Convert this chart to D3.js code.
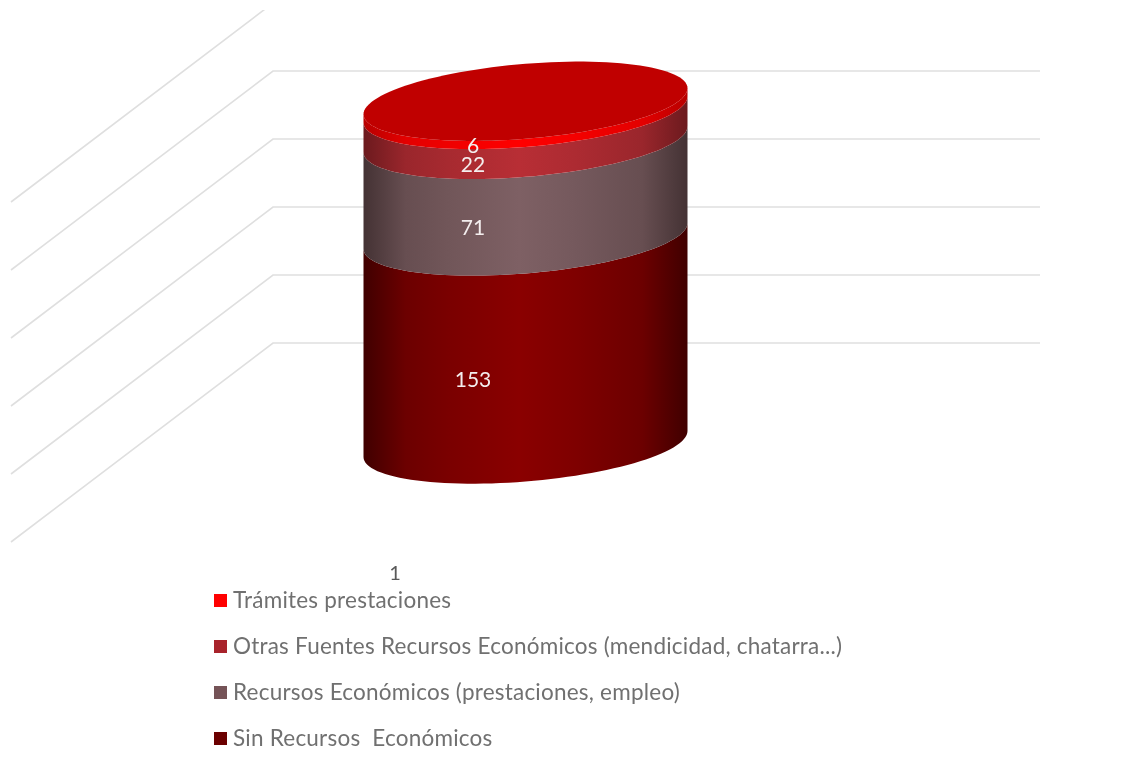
<!DOCTYPE html>
<html>
<head>
<meta charset="utf-8">
<script src="https://cdn.jsdelivr.net/npm/d3@7"></script>
<style>
  html, body { margin: 0; padding: 0; background: #fff; }
  svg { display: block; filter: blur(0.65px); }
  text { font-family: Lato, "Open Sans", sans-serif; }
</style>
</head>
<body>
<svg id="canvas" width="1134" height="769"></svg>
<script>
const categories = ['1'];
const seriesNames = ['Sin Recursos  Económicos', 'Recursos Económicos (prestaciones, empleo)', 'Otras Fuentes Recursos Económicos (mendicidad, chatarra...)', 'Trámites prestaciones'];
const sinRecursos = [153];
const recursos = [71];
const otrasFuentes = [22];
const tramites = [6];
const valueTicks = [0, 50, 100, 150, 200, 250];

const legendColors = ['#6b0000', '#755357', '#a8232b', '#ff0000'];
const sideDark = ['#400000', '#443234', '#6c1a1e', '#b80000'];
const sideLight = ['#8a0000', '#7e6064', '#b82e35', '#ff0000'];
// shading across the cylinder: [offset, share of the light colour]
const shadeStops = [[0, 0], [0.13, 0.6], [0.26, 0.78], [0.48, 1], [0.65, 0.85], [0.86, 0.6], [1, 0]];

const canvas = d3.select('#canvas');

const y = d3.scaleLinear().domain([0, 250]).range([343, 3]);
const depth = 101;
const wallLeft = 273, wallRight = 1040;
const floorX = 11, floorDrop = 199;

const defs = canvas.append('defs');
defs.append('clipPath').attr('id', 'plotClip')
  .append('rect').attr('x', 0).attr('y', 10).attr('width', 1134).attr('height', 600);

// grid, wall + side wall
canvas.append('g').attr('clip-path', 'url(#plotClip)')
  .selectAll('path')
  .data(valueTicks)
  .enter()
  .append('path')
  .attr('d', (tick) => {
    return d3.line()([[floorX, y(tick) + floorDrop], [wallLeft, y(tick)], [wallRight, y(tick)]]);
  })
  .attr('fill', 'none')
  .attr('stroke', '#dfdfdf')
  .attr('stroke-width', 1.6);

// cylinder
const rows = categories.map((name, i) => {
  return { name: name, a: sinRecursos[i], b: recursos[i], c: otrasFuentes[i], d: tramites[i] };
});
const stacked = d3.stack().keys(['a', 'b', 'c', 'd'])(rows);

const cx = 525.5, rx = 162, skew = 13, ry = 37.5;
const ringPoint = (cyl, t) => {
  return [cx + rx * Math.cos(t), cyl - skew * Math.cos(t) + ry * Math.sin(t)];
};
const frontArc = (cyl, reverse) => {
  const angles = d3.range(0, 61).map((i) => Math.PI - i * Math.PI / 60);
  if (reverse) angles.reverse();
  return angles.map((t) => ringPoint(cyl, t));
};
const cyl = (value) => y(value) + depth;

stacked.forEach((layer, i) => {
  const shade = d3.interpolateRgb(sideDark[i], sideLight[i]);
  defs.append('linearGradient').attr('id', 'side' + i)
    .attr('gradientUnits', 'userSpaceOnUse')
    .attr('x1', cx - rx).attr('x2', cx + rx).attr('y1', 0).attr('y2', 0)
    .selectAll('stop')
    .data(shadeStops)
    .enter()
    .append('stop')
    .attr('offset', (s) => s[0])
    .attr('stop-color', (s) => shade(s[1]));
});

canvas.append('g')
  .selectAll('path')
  .data(stacked)
  .enter()
  .append('path')
  .attr('d', (layer) => {
    const low = cyl(layer[0][0]);
    const high = cyl(layer[0][1]);
    return d3.line()(frontArc(low, false).concat(frontArc(high, true))) + 'Z';
  })
  .attr('fill', (layer, i) => 'url(#side' + i + ')');

const topValue = stacked[stacked.length - 1][0][1];
canvas.append('path')
  .attr('d', d3.line()(d3.range(0, 120).map((i) => ringPoint(cyl(topValue), i * Math.PI / 60))) + 'Z')
  .attr('fill', '#c00000');

// value labels
canvas.append('g')
  .selectAll('text')
  .data(stacked)
  .enter()
  .append('text')
  .text((layer) => layer[0][1] - layer[0][0])
  .attr('x', 473)
  .attr('y', (layer) => cyl((layer[0][0] + layer[0][1]) / 2) + 40)
  .attr('dy', '0.35em')
  .attr('text-anchor', 'middle')
  .attr('font-size', 21)
  .attr('fill', '#f4eeee');

// category label
canvas.append('text')
  .text(categories[0])
  .attr('x', 395)
  .attr('y', 573)
  .attr('dy', '0.35em')
  .attr('text-anchor', 'middle')
  .attr('font-size', 20)
  .attr('fill', '#595959');

// legend, top entry is the top of the stack
const legendOrder = [3, 2, 1, 0];
const legendY = d3.scalePoint().domain(legendOrder).range([600.5, 738.5]);
const legend = canvas.append('g')
  .selectAll('g')
  .data(legendOrder)
  .enter()
  .append('g')
  .attr('transform', (d) => 'translate(214,' + legendY(d) + ')');
legend.append('rect')
  .attr('x', 0).attr('y', -6.5).attr('width', 13).attr('height', 13)
  .attr('fill', (d) => legendColors[d]);
legend.append('text')
  .text((d) => seriesNames[d])
  .attr('x', 19)
  .attr('dy', '0.35em')
  .attr('font-size', 22.5)
  .attr('letter-spacing', 0.22)
  .attr('fill', '#707070')
  .style('white-space', 'pre');
</script>
</body>
</html>
